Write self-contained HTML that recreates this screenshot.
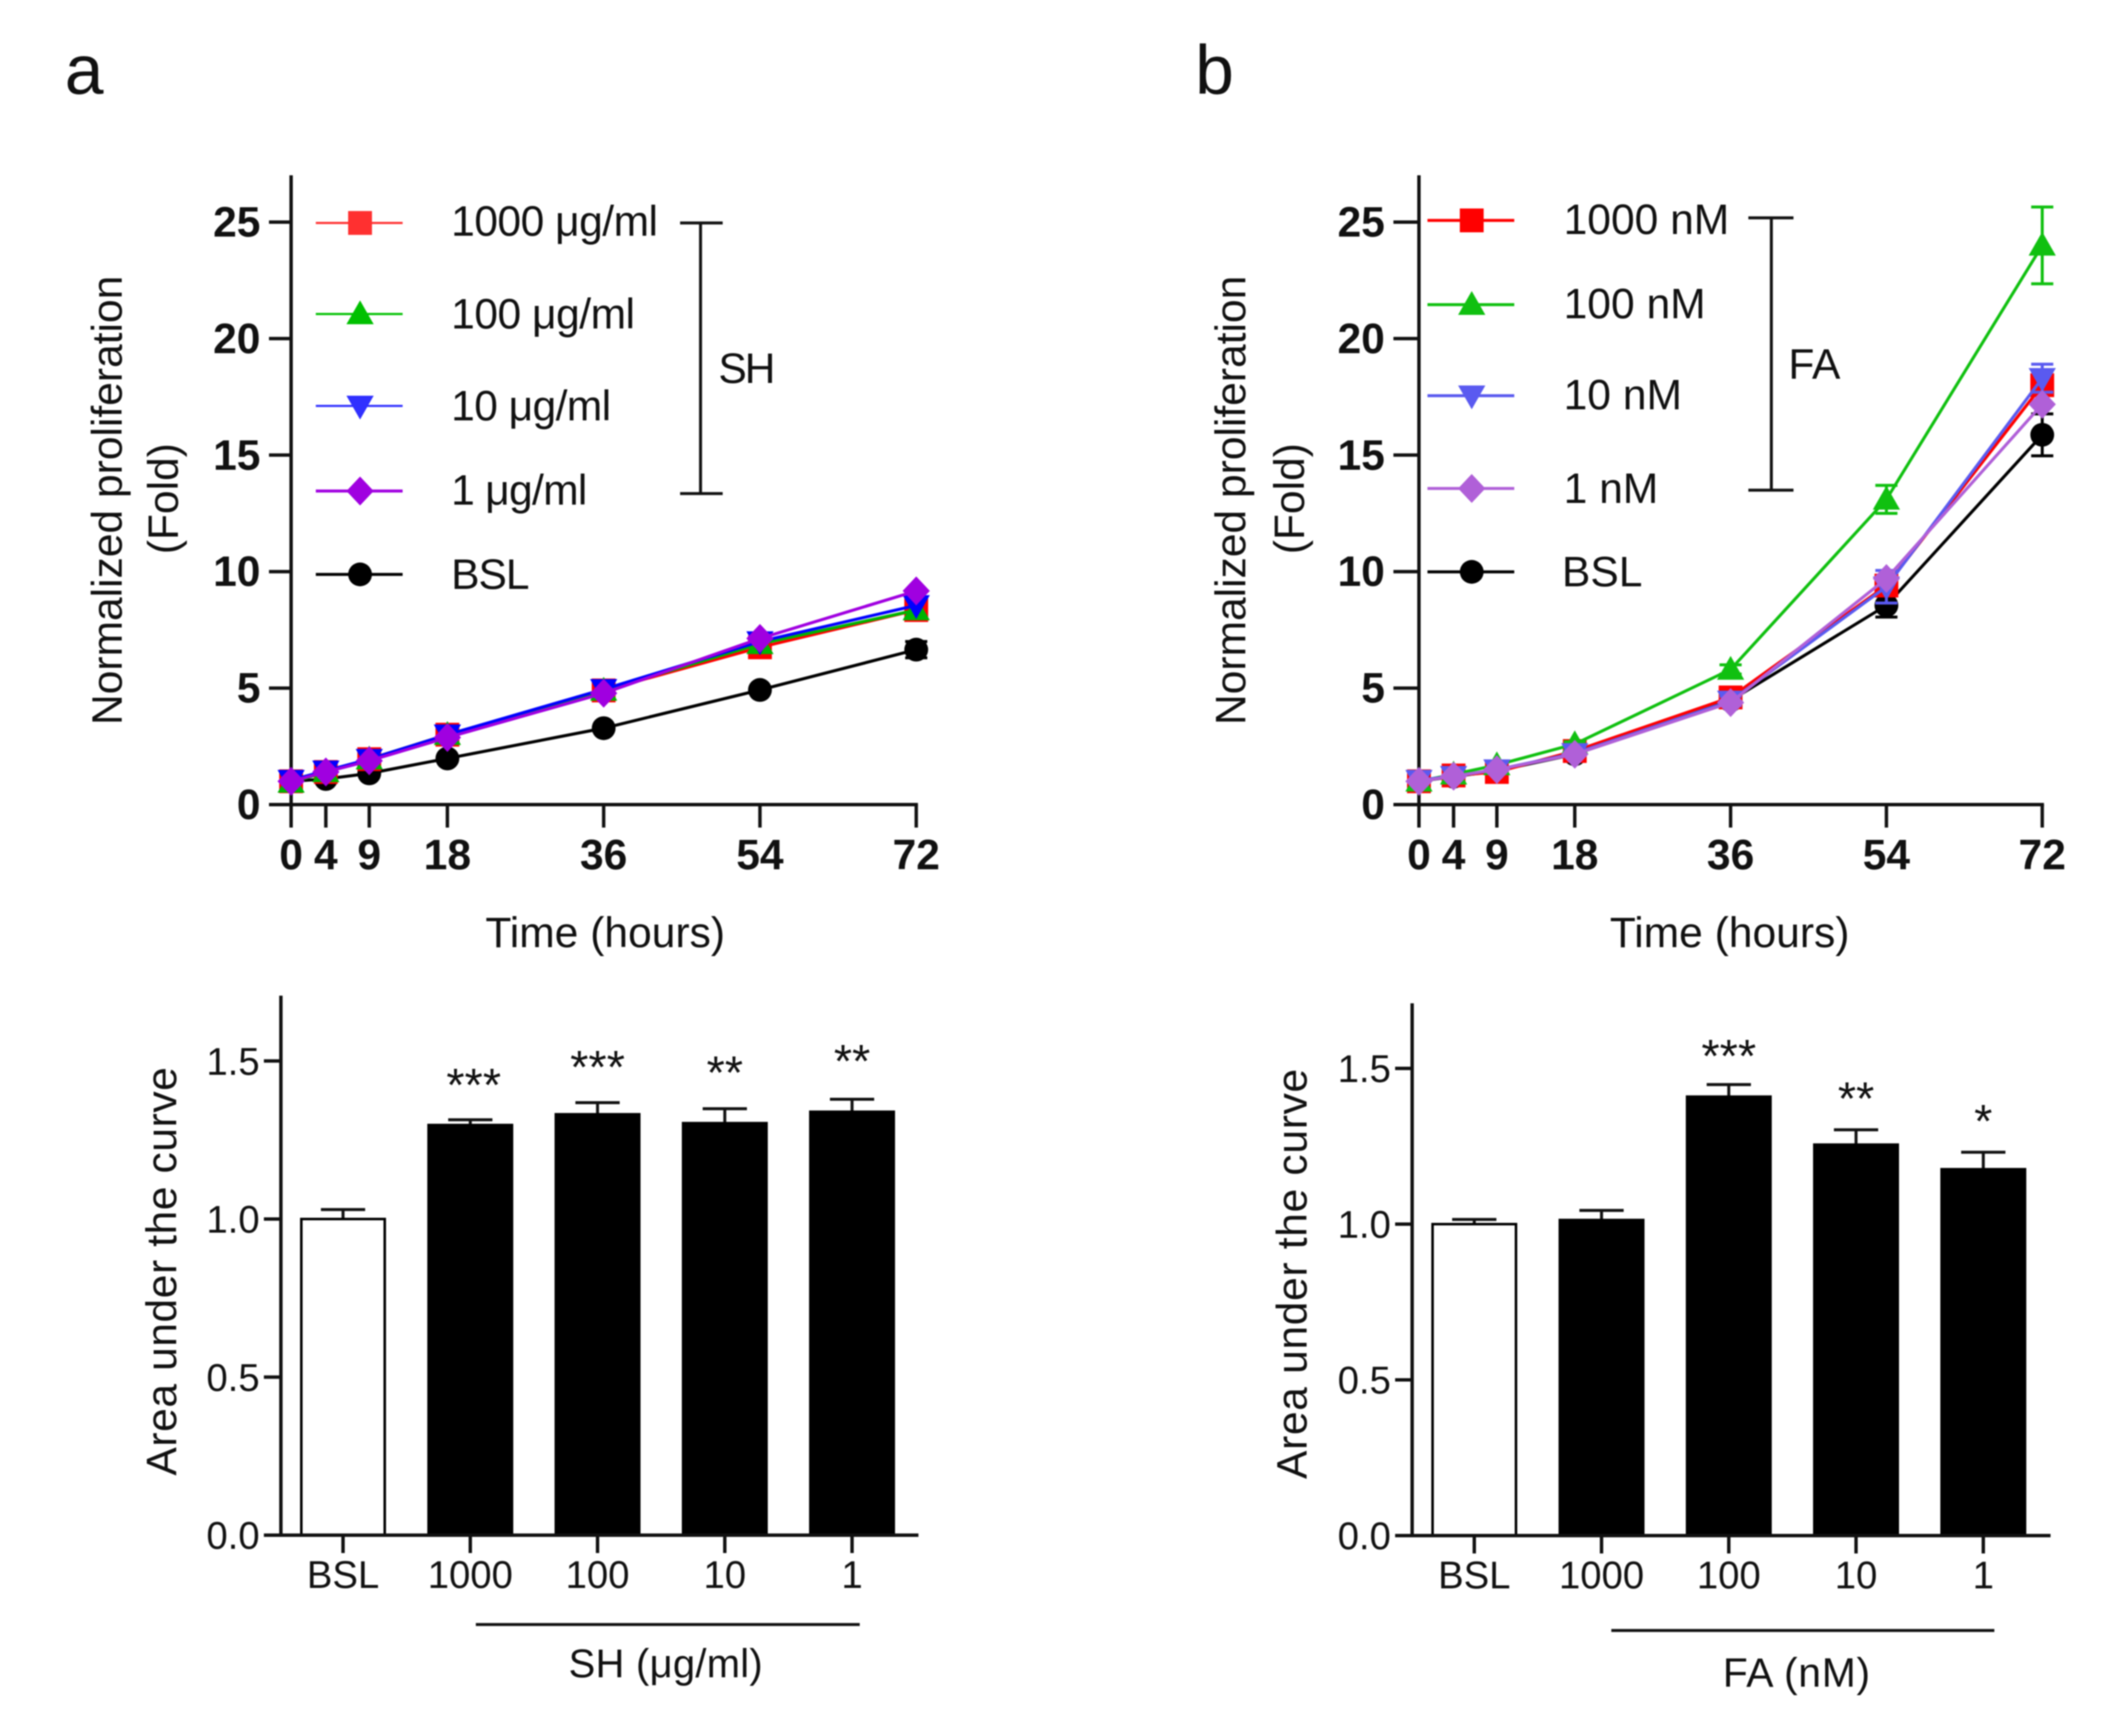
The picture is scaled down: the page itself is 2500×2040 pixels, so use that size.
<!DOCTYPE html>
<html lang="en">
<head>
<meta charset="utf-8">
<title>Proliferation charts</title>
<style>
html,body{margin:0;padding:0;background:#fff;}
#figure{display:block;width:2500px;height:2040px;filter:blur(0.7px);font-family:"Liberation Sans",Arial,sans-serif;fill:#111;}
text{font-family:"Liberation Sans",Arial,sans-serif;fill:#111;}
.lg{font-size:50px;}
.ax{font-size:50px;}
.bt{font-size:45px;}
</style>
</head>
<body>
<svg id="figure" xmlns="http://www.w3.org/2000/svg" width="2500" height="2040" viewBox="0 0 2500 2040">
<rect width="2500" height="2040" fill="#fff"/>
<text x="76" y="110" font-size="82">a</text>
<text x="1404" y="110" font-size="82">b</text>

<g id="plot-a"></g>
<g id="plot-b"></g>
<g id="bar-a"></g>
<g id="bar-b"></g>

<text class="ax" transform="translate(143,588) rotate(-90)" text-anchor="middle">Normalized proliferation</text>
<text class="ax" transform="translate(209,586) rotate(-90)" text-anchor="middle">(Fold)</text>
<text class="ax" x="711" y="1113" text-anchor="middle">Time (hours)</text>
<text class="ax" transform="translate(1463,588) rotate(-90)" text-anchor="middle">Normalized proliferation</text>
<text class="ax" transform="translate(1532,586) rotate(-90)" text-anchor="middle">(Fold)</text>
<text class="ax" x="2032" y="1113" text-anchor="middle">Time (hours)</text>

<g>
<text class="lg" x="530" y="277" textLength="243">1000 μg/ml</text>
<text class="lg" x="530" y="386" textLength="216">100 μg/ml</text>
<text class="lg" x="530" y="494" textLength="188">10 μg/ml</text>
<text class="lg" x="530" y="593" textLength="160">1 μg/ml</text>
<text class="lg" x="530" y="692" textLength="92">BSL</text>
<path d="M799 262H849M823 262V580M799 580H849" fill="none" stroke="#111" stroke-width="3.5"/>
<text class="lg" x="844" y="450" textLength="67">SH</text>
</g>
<g>
<text class="lg" x="1837" y="275">1000 nM</text>
<text class="lg" x="1837" y="374">100 nM</text>
<text class="lg" x="1837" y="481">10 nM</text>
<text class="lg" x="1837" y="591">1 nM</text>
<text class="lg" x="1835" y="689">BSL</text>
<path d="M2054 256H2107M2081 256V576M2054 576H2107" fill="none" stroke="#111" stroke-width="3.5"/>
<text class="lg" x="2101" y="445">FA</text>
</g>

<text class="ax" transform="translate(207,1494) rotate(-90)" text-anchor="middle" textLength="480">Area under the curve</text>
<text class="ax" transform="translate(1535,1497) rotate(-90)" text-anchor="middle" textLength="482">Area under the curve</text>
<line x1="559" x2="1010" y1="1909" y2="1909" stroke="#111" stroke-width="3.5"/>
<text x="668" y="1971" font-size="47" textLength="228">SH (μg/ml)</text>
<line x1="1893" x2="2343" y1="1916" y2="1916" stroke="#111" stroke-width="3.5"/>
<text x="2024" y="1982" font-size="48" textLength="173">FA (nM)</text>
</svg>

<script>
// ---- shared categories and ticks ----
const hours = [0, 4, 9, 18, 36, 54, 72];
const foldTicks = [0, 5, 10, 15, 20, 25];
const aucTicks = ['0.0', '0.5', '1.0', '1.5'];
const barCategories = ['BSL', '1000', '100', '10', '1'];

// ---- panel a: SH time course ----
const shBsl = [1.0, 1.1, 1.34, 1.98, 3.28, 4.92, 6.65];
const sh1000 = [1.0, 1.4, 1.95, 3.0, 4.9, 6.75, 8.35];
const sh100 = [0.95, 1.4, 1.95, 3.0, 4.9, 6.9, 8.35];
const sh10 = [1.05, 1.45, 1.95, 3.0, 4.95, 7.0, 8.55];
const sh1 = [1.0, 1.4, 1.88, 2.88, 4.78, 7.13, 9.17];
const shBslErr = [0, 0, 0, 0.1, 0.1, 0.1, 0.35];

// ---- panel b: FA time course ----
const faBsl = [1.0, 1.2, 1.45, 2.16, 4.47, 8.55, 15.87];
const fa1000 = [1.0, 1.25, 1.4, 2.3, 4.6, 9.4, 18.0];
const fa100 = [1.0, 1.3, 1.7, 2.6, 5.8, 13.1, 24.0];
const fa10 = [1.05, 1.22, 1.5, 2.2, 4.45, 9.35, 18.3];
const fa1 = [1.0, 1.22, 1.5, 2.16, 4.38, 9.7, 17.18];
const faBslErr = [0, 0, 0, 0.1, 0.2, 0.5, 0.9];
const fa100Err = [0, 0, 0, 0.1, 0.2, 0.6, 1.65];
const fa10Err = [0, 0, 0, 0.1, 0.2, 0.7, 0.6];

// ---- area under the curve bars ----
const shAuc = [1.0, 1.3, 1.334, 1.306, 1.342];
const shAucErr = [0.03, 0.014, 0.034, 0.043, 0.037];
const shStars = ['', '***', '***', '**', '**'];
const shStarValues = [0, 1.46, 1.517, 1.5, 1.536];
const faAuc = [1.0, 1.016, 1.412, 1.258, 1.179];
const faAucErr = [0.015, 0.028, 0.036, 0.045, 0.052];
const faStars = ['', '', '***', '**', '*'];
const faStarValues = [0, 0, 1.576, 1.44, 1.368];

const SVGNS = 'http://www.w3.org/2000/svg';
function mk(parent, tag, attrs) {
  const el = document.createElementNS(SVGNS, tag);
  for (const k in attrs) el.setAttribute(k, attrs[k]);
  parent.appendChild(el);
  return el;
}
const INK = '#111';

function drawMarker(parent, kind, x, y, color) {
  let el;
  if (kind === 'square') {
    el = mk(parent, 'rect', {x: x - 14, y: y - 14, width: 28, height: 28, fill: color});
  } else if (kind === 'up') {
    el = mk(parent, 'polygon', {points: (x) + ',' + (y - 16) + ' ' + (x + 16) + ',' + (y + 12) + ' ' + (x - 16) + ',' + (y + 12), fill: color});
  } else if (kind === 'down') {
    el = mk(parent, 'polygon', {points: (x) + ',' + (y + 16) + ' ' + (x + 16) + ',' + (y - 12) + ' ' + (x - 16) + ',' + (y - 12), fill: color});
  } else if (kind === 'diamond') {
    el = mk(parent, 'polygon', {points: (x) + ',' + (y - 17) + ' ' + (x + 16) + ',' + (y) + ' ' + (x) + ',' + (y + 17) + ' ' + (x - 16) + ',' + (y), fill: color});
  } else {
    el = mk(parent, 'circle', {cx: x, cy: y, r: 14, fill: color});
  }
  
  
}

function drawLinePanel(root, x0, pxPerHour, y0, pxPerFold, tickLeft, yAxisTop, series, legend) {
  const xs = h => x0 + h * pxPerHour;
  const ys = v => y0 - v * pxPerFold;
  const xEnd = xs(hours[hours.length - 1]);

  const yAxis = mk(root, 'line', {x1: x0, x2: x0, y1: yAxisTop, y2: y0, stroke: INK, 'stroke-width': 4});
  
  
  const xAxis = mk(root, 'line', {x1: tickLeft, x2: xEnd + 2, y1: y0, y2: y0, stroke: INK, 'stroke-width': 4});
  
  

  foldTicks.forEach(t => {
    if (t !== 0) {
      const tk = mk(root, 'line', {x1: tickLeft, x2: x0, y1: ys(t), y2: ys(t), stroke: INK, 'stroke-width': 4});
      
      
    }
    const lb = mk(root, 'text', {x: tickLeft - 10, y: ys(t) + 17, 'text-anchor': 'end', 'font-size': 50, 'font-weight': 'bold'});
    lb.textContent = t;
    
    
  });
  hours.forEach(h => {
    const tk = mk(root, 'line', {x1: xs(h), x2: xs(h), y1: y0, y2: y0 + 27, stroke: INK, 'stroke-width': 4});
    
    
    const lb = mk(root, 'text', {x: xs(h), y: y0 + 76, 'text-anchor': 'middle', 'font-size': 50, 'font-weight': 'bold'});
    lb.textContent = h;
    
    
  });

  series.forEach(s => {
    const g = mk(root, 'g', {});
    
    
    if (s.err) {
      s.err.forEach((e, i) => {
        if (e <= 0) return;
        const x = xs(hours[i]);
        const top = ys(s.values[i] + e);
        const bot = ys(s.values[i] - e);
        const eb = mk(g, 'path', {d: 'M' + (x - 13) + ' ' + top + 'H' + (x + 13) + 'M' + x + ' ' + top + 'V' + bot + 'M' + (x - 13) + ' ' + bot + 'H' + (x + 13), fill: 'none', stroke: s.color, 'stroke-width': 3.5});
        
        
      });
    }
    const pts = s.values.map((v, i) => xs(hours[i]) + ',' + ys(v)).join(' ');
    const pl = mk(g, 'polyline', {points: pts, fill: 'none', stroke: s.color, 'stroke-width': 3.6});
    
    
    s.values.forEach((v, i) => drawMarker(g, s.kind, xs(hours[i]), ys(v), s.color));
  });

  legend.forEach(l => {
    const g = mk(root, 'g', {});
    
    
    const ln = mk(g, 'line', {x1: l.x1, x2: l.x1 + 102, y1: l.y, y2: l.y, stroke: l.color, 'stroke-width': l.w});
    
    
    drawMarker(g, l.kind, l.x1 + 52, l.y, l.color);
  });
}

function drawBarPanel(root, axisX, tickLeft, xEnd, yAxisTop, y0, pxPerUnit, firstCenter, step, values, errors, stars, starValues) {
  const ys = v => y0 - v * pxPerUnit;
  const xc = i => firstCenter + i * step;
  const halfW = 50;

  const yAxis = mk(root, 'line', {x1: axisX, x2: axisX, y1: yAxisTop, y2: y0, stroke: INK, 'stroke-width': 4});
  
  

  values.forEach((v, i) => {
    const top = ys(v + errors[i]);
    const eb = mk(root, 'path', {d: 'M' + (xc(i) - 26) + ' ' + top + 'H' + (xc(i) + 26) + 'M' + xc(i) + ' ' + top + 'V' + ys(v), fill: 'none', stroke: INK, 'stroke-width': 3.5});
    
    
    const hollow = i === 0;
    const bar = mk(root, 'rect', {
      x: xc(i) - halfW + (hollow ? 1 : 0), y: ys(v),
      width: halfW * 2 - (hollow ? 2 : 0), height: y0 - ys(v),
      fill: hollow ? '#fff' : '#000', stroke: '#000', 'stroke-width': hollow ? 3 : 1
    });
    
    
    const tk = mk(root, 'line', {x1: xc(i), x2: xc(i), y1: y0, y2: y0 + 21, stroke: INK, 'stroke-width': 4});
    
    
    const lb = mk(root, 'text', {x: xc(i), y: y0 + 62, 'text-anchor': 'middle', 'font-size': 45});
    lb.textContent = barCategories[i];
    
    
    if (stars[i]) {
      const st = mk(root, 'text', {x: xc(i) + (stars[i].length === 3 && i === 1 ? 4 : 0), y: ys(starValues[i]) + 32, 'text-anchor': 'middle', 'font-size': 55});
      st.textContent = stars[i];
      
      
    }
  });

  aucTicks.forEach(t => {
    const tk = mk(root, 'line', {x1: tickLeft, x2: axisX, y1: ys(parseFloat(t)), y2: ys(parseFloat(t)), stroke: INK, 'stroke-width': 4});
    
    
    const lb = mk(root, 'text', {x: tickLeft - 5, y: ys(parseFloat(t)) + 16, 'text-anchor': 'end', 'font-size': 45});
    lb.textContent = t;
    
    
  });
  const xAxis = mk(root, 'line', {x1: tickLeft, x2: xEnd, y1: y0, y2: y0, stroke: INK, 'stroke-width': 4});
  
  
}

drawLinePanel(document.getElementById('plot-a'), 342, 10.2, 945.5, 27.38, 316, 206, [
  {name: 'bsl', values: shBsl, err: shBslErr, color: '#000', kind: 'circle'},
  {name: '1000', values: sh1000, color: '#ff0000', kind: 'square'},
  {name: '100', values: sh100, color: '#00b400', kind: 'up'},
  {name: '10', values: sh10, color: '#0000ff', kind: 'down'},
  {name: '1', values: sh1, color: '#a000e0', kind: 'diamond'}
], [
  {name: '1000', x1: 371, y: 262, color: '#ff3030', w: 2.5, kind: 'square'},
  {name: '100', x1: 371, y: 369, color: '#00c000', w: 2.5, kind: 'up'},
  {name: '10', x1: 371, y: 477, color: '#3030ff', w: 2.5, kind: 'down'},
  {name: '1', x1: 371, y: 577, color: '#a000e0', w: 3.5, kind: 'diamond'},
  {name: 'bsl', x1: 371, y: 675, color: '#000', w: 3.5, kind: 'circle'}
]);

drawLinePanel(document.getElementById('plot-b'), 1667, 10.17, 945.5, 27.38, 1637, 206, [
  {name: 'bsl', values: faBsl, err: faBslErr, color: '#000', kind: 'circle'},
  {name: '1000', values: fa1000, color: '#ff0000', kind: 'square'},
  {name: '100', values: fa100, err: fa100Err, color: '#10c010', kind: 'up'},
  {name: '10', values: fa10, err: fa10Err, color: '#5a5af0', kind: 'down'},
  {name: '1', values: fa1, color: '#b060d8', kind: 'diamond'}
], [
  {name: '1000', x1: 1677, y: 259, color: '#ff0000', w: 3.5, kind: 'square'},
  {name: '100', x1: 1677, y: 358, color: '#10c010', w: 3.5, kind: 'up'},
  {name: '10', x1: 1677, y: 465, color: '#5a5af0', w: 3.5, kind: 'down'},
  {name: '1', x1: 1677, y: 574, color: '#b060d8', w: 3.5, kind: 'diamond'},
  {name: 'bsl', x1: 1677, y: 672, color: '#000', w: 3.5, kind: 'circle'}
]);

drawBarPanel(document.getElementById('bar-a'), 330, 310, 1079, 1170, 1804, 371.5, 403, 149.5, shAuc, shAucErr, shStars, shStarValues);
drawBarPanel(document.getElementById('bar-b'), 1659, 1639, 2409, 1179, 1804.5, 366, 1732, 149.5, faAuc, faAucErr, faStars, faStarValues);
</script>
</body>
</html>
